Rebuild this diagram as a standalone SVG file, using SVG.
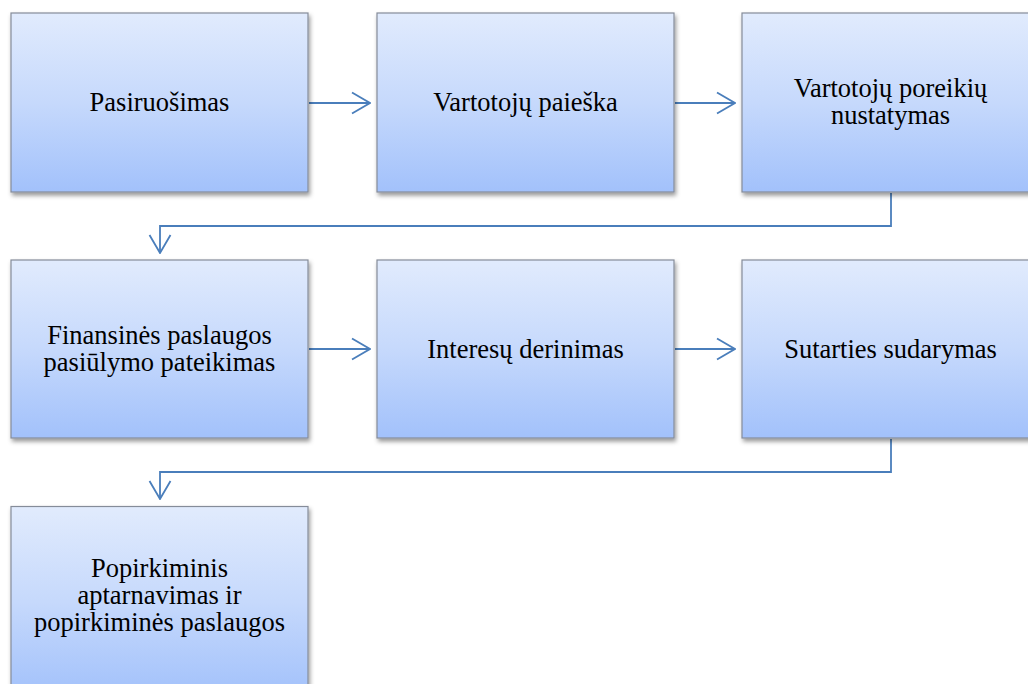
<svg xmlns="http://www.w3.org/2000/svg" width="1028" height="684" viewBox="0 0 1028 684">
  <defs>
    <linearGradient id="boxFill" x1="0" y1="0" x2="0" y2="1">
      <stop offset="0" stop-color="#e1ebfd"/>
      <stop offset="0.5" stop-color="#c6d9fc"/>
      <stop offset="1" stop-color="#a2c1fb"/>
    </linearGradient>
    <filter id="shadow" x="-10%" y="-10%" width="120%" height="125%">
      <feDropShadow dx="1.5" dy="3" stdDeviation="2" flood-color="#000" flood-opacity="0.4"/>
    </filter>
    <marker id="arrow" viewBox="0 0 20 24" refX="19" refY="12" markerWidth="20" markerHeight="24" markerUnits="userSpaceOnUse" orient="auto">
      <path d="M1,1.5 L19,12 L1,22.5" fill="none" stroke="#4a7ebb" stroke-width="1.8"/>
    </marker>
  </defs>
  <style>
    .box { fill: url(#boxFill); stroke: #858c99; stroke-width: 1.2; filter: url(#shadow); }
    .label { font-family: 'Liberation Serif', 'DejaVu Serif', serif; font-size: 26.5px; fill: #000; text-anchor: middle; }
    .conn { fill: none; stroke: #4a7ebb; stroke-width: 1.8; marker-end: url(#arrow); }
  </style>
  <rect width="1028" height="684" fill="#fff"/>

  <g id="connectors">
    <line class="conn" x1="309" y1="103" x2="370" y2="103"/>
    <line class="conn" x1="675" y1="103" x2="735" y2="103"/>
    <polyline class="conn" points="891,193 891,226 160,226 160,253"/>
    <line class="conn" x1="309" y1="349" x2="370" y2="349"/>
    <line class="conn" x1="675" y1="349" x2="735" y2="349"/>
    <polyline class="conn" points="891,439 891,472 160,472 160,499"/>
  </g>

  <g id="node-pasiruosimas">
    <rect class="box" x="11" y="13" width="297" height="179"/>
    <text class="label" font-family="Liberation Serif" x="159.5" y="111">Pasiruošimas</text>
  </g>
  <g id="node-vartotoju-paieska">
    <rect class="box" x="377" y="13" width="297" height="179"/>
    <text class="label" font-family="Liberation Serif" x="525.5" y="111">Vartotojų paieška</text>
  </g>
  <g id="node-poreikiu-nustatymas">
    <rect class="box" x="742" y="13" width="297" height="179"/>
    <text class="label" font-family="Liberation Serif" x="890.5" y="97">Vartotojų poreikių</text>
    <text class="label" font-family="Liberation Serif" x="890.5" y="124">nustatymas</text>
  </g>
  <g id="node-pasiulymo-pateikimas">
    <rect class="box" x="11" y="260" width="297" height="178"/>
    <text class="label" font-family="Liberation Serif" x="159.5" y="344">Finansinės paslaugos</text>
    <text class="label" font-family="Liberation Serif" x="159.5" y="371">pasiūlymo pateikimas</text>
  </g>
  <g id="node-interesu-derinimas">
    <rect class="box" x="377" y="260" width="297" height="178"/>
    <text class="label" font-family="Liberation Serif" x="525.5" y="358">Interesų derinimas</text>
  </g>
  <g id="node-sutarties-sudarymas">
    <rect class="box" x="742" y="260" width="297" height="178"/>
    <text class="label" font-family="Liberation Serif" x="890.5" y="358">Sutarties sudarymas</text>
  </g>
  <g id="node-popirkiminis">
    <rect class="box" x="11" y="506.5" width="297" height="190"/>
    <text class="label" font-family="Liberation Serif" x="159.5" y="577">Popirkiminis</text>
    <text class="label" font-family="Liberation Serif" x="159.5" y="604">aptarnavimas ir</text>
    <text class="label" font-family="Liberation Serif" x="159.5" y="631">popirkiminės paslaugos</text>
  </g>
</svg>
